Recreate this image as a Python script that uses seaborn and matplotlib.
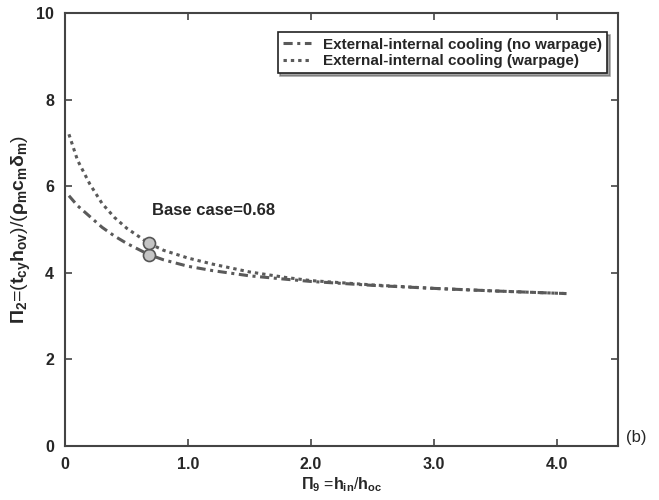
import matplotlib.pyplot as plt
import pandas as pd
import seaborn as sns

# values
x_vals = [0.03, 0.1, 0.2, 0.3, 0.4, 0.5, 0.68, 0.8, 1.0, 1.2, 1.5, 1.8, 2.0, 2.5, 3.0, 3.5, 4.08]
no_warp = [5.78, 5.55, 5.3, 5.05, 4.85, 4.68, 4.42, 4.3, 4.15, 4.05, 3.93, 3.85, 3.8, 3.71, 3.64, 3.58, 3.52]
warp = [7.2, 6.6, 6.05, 5.6, 5.28, 5.03, 4.68, 4.52, 4.34, 4.2, 4.02, 3.89, 3.82, 3.72, 3.64, 3.58, 3.52]
base_x = [0.68, 0.68]
base_y = [4.42, 4.68]
labels = ["External-internal cooling (no warpage)", "External-internal cooling (warpage)"]
x_ticks = [0, 1, 2, 3, 4]
x_tick_labels = ["0", "1.0", "2.0", "3.0", "4.0"]
y_ticks = [0, 2, 4, 6, 8, 10]

sns.set_style("ticks")
plt.rcParams["font.family"] = ["Liberation Sans", "DejaVu Sans"]
plt.rcParams["font.weight"] = "bold"
plt.rcParams["mathtext.fontset"] = "custom"
plt.rcParams["mathtext.rm"] = "Liberation Sans:bold"
plt.rcParams["mathtext.it"] = "Liberation Sans:bold"
plt.rcParams["mathtext.bf"] = "Liberation Sans:bold"

df = pd.DataFrame({
    "x": x_vals * 2,
    "y": no_warp + warp,
    "case": [labels[0]] * len(x_vals) + [labels[1]] * len(x_vals),
})

fig = plt.figure(figsize=(6.59, 5.0), dpi=100)
ax = fig.add_axes([0.099, 0.108, 0.839, 0.866])

line_color = "#5a5a5a"
sns.lineplot(data=df, x="x", y="y", hue="case", style="case",
             palette=[line_color, line_color],
             dashes=[(3, 1.5, 1, 1.5), (1.1, 1.3)],
             linewidth=2.2, ax=ax, legend=True)
sns.scatterplot(x=base_x, y=base_y, s=75, color="#c4c4c4",
                edgecolor="#555555", linewidth=1.2, ax=ax, zorder=5, legend=False)

ax.text(0.71, 5.45, "Base case=0.68", fontsize=12, fontweight="bold",
        va="center", ha="left")
ax.text(1.015, 0.02, "(b)", transform=ax.transAxes, fontsize=12,
        fontweight="normal", va="center", ha="left")

ax.set_xlim(0, 4.5)
ax.set_ylim(0, 10)
ax.set_xticks(x_ticks)
ax.set_xticklabels(x_tick_labels)
ax.set_yticks(y_ticks)
ax.tick_params(direction="in", top=True, right=True, length=5, width=1.2,
               color="#444444", labelsize=11.5, pad=8)
for lab in ax.get_xticklabels() + ax.get_yticklabels():
    lab.set_fontweight("bold")
for sp in ax.spines.values():
    sp.set_visible(True)
    sp.set_color("#444444")
    sp.set_linewidth(1.5)

ax.set_xlabel(r"$\Pi_9$ =$h_{in}$/$h_{oc}$", fontsize=11.5, labelpad=2)
ax.set_ylabel(r"$\Pi_2$=($t_{cy}$$h_{ov}$)/($\rho_m$$c_m$$\delta_m$)",
              fontsize=14, labelpad=2)

leg = ax.legend(loc="upper right", bbox_to_anchor=(0.98, 0.955),
                borderaxespad=0, fontsize=11, handlelength=1.8,
                frameon=True, fancybox=False, shadow=True,
                borderpad=0.35, labelspacing=0.15, handletextpad=0.8)
leg.get_frame().set_edgecolor("#222222")
leg.get_frame().set_linewidth(1.2)
for t in leg.get_texts():
    t.set_fontweight("bold")

fig.savefig("out.png", dpi=100)
